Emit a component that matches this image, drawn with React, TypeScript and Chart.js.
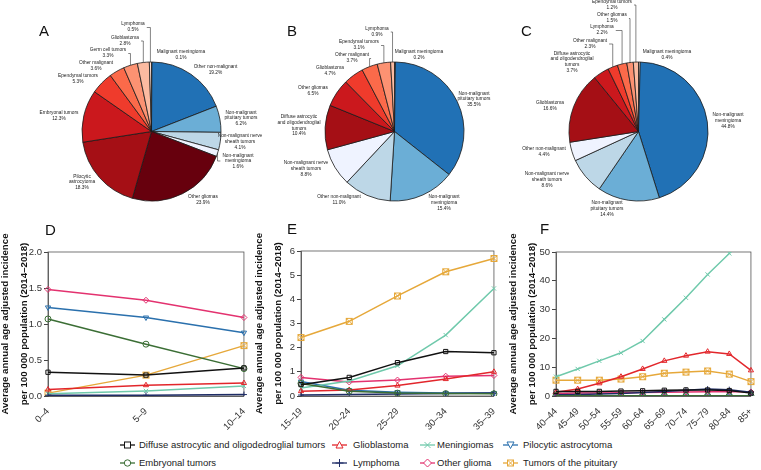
import React, { useEffect, useRef } from 'react';
import { Chart, registerables } from 'chart.js';

Chart.register(...registerables);

const FONT = '"Liberation Sans", Arial, Helvetica, sans-serif';
Chart.defaults.font.family = FONT;

/* ---------------- Pie data ---------------- */
const PIE_A_LABELS = ['Malignant meningioma', 'Other non-malignant', 'Non-malignant pituitary tumors', 'Non-malignant nerve sheath tumors', 'Non-malignant meningioma', 'Other gliomas', 'Pilocytic astrocytoma', 'Embryonal tumors', 'Ependymal tumors', 'Other malignant', 'Germ cell tumors', 'Glioblastoma', 'Lymphoma'];
const PIE_A_VALUES = [0.1, 19.2, 6.2, 4.1, 1.6, 23.9, 18.3, 12.3, 5.3, 3.6, 3.3, 2.8, 0.5];

const PIE_B_LABELS = ['Malignant meningioma', 'Non-malignant pituitary tumors', 'Non-malignant meningioma', 'Other non-malignant', 'Non-malignant nerve sheath tumors', 'Diffuse astrocytic and oligodendroglial tumors', 'Other gliomas', 'Glioblastoma', 'Other malignant', 'Ependymal tumors', 'Lymphoma'];
const PIE_B_VALUES = [0.2, 35.5, 15.4, 11.0, 8.8, 10.4, 6.5, 4.7, 3.7, 3.1, 0.9];

const PIE_C_LABELS = ['Malignant meningioma', 'Non-malignant meningioma', 'Non-malignant pituitary tumors', 'Non-malignant nerve sheath tumors', 'Other non-malignant', 'Glioblastoma', 'Diffuse astrocytic and oligodendroglial tumors', 'Other malignant', 'Lymphoma', 'Other gliomas', 'Ependymal tumors'];
const PIE_C_VALUES = [0.4, 44.8, 14.4, 8.6, 4.4, 16.6, 3.7, 2.3, 2.2, 1.5, 1.2];

/* ---------------- Pie styles & label layout ---------------- */
const PIE_A_COLORS = ['#fff5f0', '#2171b5', '#6baed6', '#bdd7e7', '#eff3ff', '#67000d', '#a50f15', '#cb181d', '#ef3b2c', '#fb6a4a', '#fc9272', '#fcbba1', '#fee0d2'];
const PIE_B_COLORS = ['#fee0d2', '#2171b5', '#6baed6', '#bdd7e7', '#eff3ff', '#a50f15', '#cb181d', '#ef3b2c', '#fb6a4a', '#fc9272', '#fcbba1'];
const PIE_C_COLORS = ['#fee0d2', '#2171b5', '#6baed6', '#bdd7e7', '#eff3ff', '#a50f15', '#cb181d', '#ef3b2c', '#fb6a4a', '#fc9272', '#fcbba1'];

const LABEL_WRAP: Record<string, string[]> = {
  'Non-malignant pituitary tumors': ['Non-malignant', 'pituitary tumors'],
  'Non-malignant nerve sheath tumors': ['Non-malignant nerve', 'sheath tumors'],
  'Non-malignant meningioma': ['Non-malignant', 'meningioma'],
  'Diffuse astrocytic and oligodendroglial tumors': ['Diffuse astrocytic', 'and oligodendroglial', 'tumors'],
  'Pilocytic astrocytoma': ['Pilocytic', 'astrocytoma'],
};

// [dx, dy] of label block centre relative to the pie centre, and leader type
type LabelPos = [number, number, string];
const PIE_A_LAYOUT: LabelPos[] = [[29.5, -76.5, ''], [64, -61.5, ''], [89.5, -13.5, ''], [88.5, 10, ''], [86.5, 29.5, 'down'], [51.5, 68.5, ''], [-69.5, 50.5, ''], [-92.5, -16, ''], [-73.5, -52.5, ''], [-55.5, -65.5, ''], [-43.5, -78.5, 'up'], [-26.5, -91, 'up'], [-18.5, -104.5, 'up']];
const PIE_B_LAYOUT: LabelPos[] = [[24.5, -76.5, ''], [79.5, -32.5, ''], [49.5, 71, ''], [-55.5, 68.5, ''], [-88.5, 37, ''], [-95.5, -6, ''], [-81.5, -40.5, ''], [-64.5, -60.5, ''], [-42.5, -73.5, 'up'], [-35.5, -86.5, 'up'], [-17.5, -100, 'up']];
const PIE_C_LAYOUT: LabelPos[] = [[28.5, -76.5, ''], [89.5, -11, ''], [-31.5, 77, ''], [-91.5, 48, ''], [-94.5, 20.5, ''], [-88.5, -26, ''], [-66.5, -69.5, ''], [-48.5, -88, 'up'], [-36.5, -101.5, 'up'], [-26.5, -113.5, 'up'], [-26.5, -127, 'up']];

/* ---------------- Line chart data ---------------- */
const SERIES_NAMES = ['Diffuse astrocytic and oligodedroglial tumors', 'Embryonal tumors', 'Glioblastoma', 'Lymphoma', 'Meningiomas', 'Other glioma', 'Pilocytic astrocytoma', 'Tumors of the pituitary'];

const AGES_D = ['0–4', '5–9', '10–14'];
const D_DIFFUSE = [0.33, 0.29, 0.39];
const D_EMBRYONAL = [1.07, 0.72, 0.38];
const D_GLIOBLASTOMA = [0.09, 0.15, 0.18];
const D_LYMPHOMA = [0.01, 0.01, 0.02];
const D_MENINGIOMAS = [0.03, 0.07, 0.14];
const D_OTHER_GLIOMA = [1.48, 1.33, 1.09];
const D_PILOCYTIC = [1.23, 1.09, 0.88];
const D_PITUITARY = [0.04, 0.29, 0.70];

const AGES_E = ['15–19', '20–24', '25–29', '30–34', '35–39'];
const E_DIFFUSE = [0.47, 0.77, 1.38, 1.84, 1.79];
const E_EMBRYONAL = [0.52, 0.2, 0.12, 0.1, 0.09];
const E_GLIOBLASTOMA = [0.2, 0.25, 0.43, 0.7, 1.0];
const E_LYMPHOMA = [0.04, 0.06, 0.08, 0.1, 0.12];
const E_MENINGIOMAS = [0.33, 0.62, 1.25, 2.52, 4.45];
const E_OTHER_GLIOMA = [0.77, 0.58, 0.66, 0.82, 0.85];
const E_PILOCYTIC = [0.6, 0.24, 0.16, 0.12, 0.12];
const E_PITUITARY = [2.42, 3.09, 4.14, 5.14, 5.69];

const AGES_F = ['40–44', '45–49', '50–54', '55–59', '60–64', '65–69', '70–74', '75–79', '80–84', '85+'];
const F_DIFFUSE = [1.6, 1.6, 1.6, 1.7, 1.8, 2.0, 2.1, 2.1, 1.9, 1.0];
const F_EMBRYONAL = [0.12, 0.1, 0.1, 0.09, 0.09, 0.08, 0.08, 0.07, 0.06, 0.05];
const F_GLIOBLASTOMA = [1.3, 2.4, 4.4, 6.7, 9.4, 12.2, 14.0, 15.4, 14.6, 8.9];
const F_LYMPHOMA = [0.4, 0.5, 0.7, 0.9, 1.2, 1.6, 2.0, 2.4, 2.2, 1.3];
const F_MENINGIOMAS = [6.7, 9.4, 12.2, 15.0, 19.1, 26.6, 34.1, 42.2, 49.5, 56];
const F_OTHER_GLIOMA = [0.9, 1.0, 1.0, 1.1, 1.2, 1.3, 1.4, 1.5, 1.6, 1.4];
const F_PILOCYTIC = [0.15, 0.14, 0.13, 0.12, 0.12, 0.1, 0.1, 0.09, 0.08, 0.06];
const F_PITUITARY = [5.5, 5.5, 5.5, 5.9, 6.7, 7.9, 8.3, 8.7, 7.6, 5.0];

const Y_TITLE = ['Average annual age adjusted incidence', 'per 100 000 population (2014–2018)'];

/* ---------------- Line styles ---------------- */
const SERIES_COLORS = ['#111111', '#3b6e35', '#e2262b', '#1f2d66', '#6fc9ab', '#e3326f', '#2a70ad', '#e6a83a'];
const SERIES_SHAPES = ['rect', 'circle', 'triangle', 'cross', 'crossRot', 'rectRot', 'triangle', 'rectX'];
const SERIES_ROT = [0, 0, 0, 0, 0, 0, 180, 0];

function makeRectX(color: string) {
  const c = document.createElement('canvas');
  c.width = 9;
  c.height = 9;
  const g = c.getContext('2d')!;
  g.strokeStyle = color;
  g.lineWidth = 1;
  g.strokeRect(1.5, 1.5, 6, 6);
  g.beginPath();
  g.moveTo(1.5, 1.5); g.lineTo(7.5, 7.5);
  g.moveTo(7.5, 1.5); g.lineTo(1.5, 7.5);
  g.stroke();
  return c;
}

/* ---------------- Pie component ---------------- */
type PieProps = {
  left: number; top: number; width: number; height: number;
  cx: number; cy: number; r: number;
  labels: string[]; values: number[]; colors: string[]; layout: LabelPos[];
};

function PieChart(p: PieProps) {
  const ref = useRef<HTMLCanvasElement>(null);
  useEffect(() => {
    const bw = 0.8;
    const rr = p.r + bw / 2;
    const labelPlugin = {
      id: 'pieLabels',
      afterDraw(chart: any) {
        const ctx = chart.ctx;
        const meta = chart.getDatasetMeta(0);
        ctx.save();
        ctx.font = `4.8px ${FONT}`;
        ctx.fillStyle = '#222';
        ctx.strokeStyle = '#333';
        ctx.lineWidth = 0.6;
        ctx.textAlign = 'center';
        ctx.textBaseline = 'middle';
        const lh = 5.7;
        meta.data.forEach((arc: any, i: number) => {
          const { x, y, startAngle, endAngle, outerRadius } = arc.getProps(['x', 'y', 'startAngle', 'endAngle', 'outerRadius'], true);
          const L = p.layout[i];
          const name = p.labels[i];
          const lines = [...(LABEL_WRAP[name] || [name]), `${p.values[i].toFixed(1)}%`];
          const bx = x + L[0];
          const by = y + L[1];
          const w = Math.max(...lines.map((t) => ctx.measureText(t).width));
          lines.forEach((t, k) => ctx.fillText(t, bx, by + (k - (lines.length - 1) / 2) * lh));
          const mid = (startAngle + endAngle) / 2;
          const ax = x + outerRadius * Math.cos(mid);
          const ay = y + outerRadius * Math.sin(mid);
          if (L[2] === 'up') {
            ctx.beginPath();
            ctx.moveTo(bx + w / 2 + 2, by + 0.5);
            ctx.lineTo(ax, by + 0.5);
            ctx.lineTo(ax, ay);
            ctx.stroke();
          } else if (L[2] === 'down') {
            ctx.beginPath();
            ctx.moveTo(ax, ay);
            ctx.lineTo(ax, by);
            ctx.lineTo(bx - w / 2 - 2, by);
            ctx.stroke();
          }
        });
        ctx.restore();
      },
    };
    const chart = new Chart(ref.current!, {
      type: 'pie',
      data: {
        labels: p.labels,
        datasets: [{ data: p.values, backgroundColor: p.colors, borderColor: '#1a1a1a', borderWidth: bw, hoverOffset: 0 }],
      },
      options: {
        animation: false,
        responsive: false,
        maintainAspectRatio: false,
        events: [],
        layout: {
          padding: {
            left: p.cx - p.left - rr,
            top: p.cy - p.top - rr,
            right: p.left + p.width - (p.cx + rr),
            bottom: p.top + p.height - (p.cy + rr),
          },
        },
        plugins: { legend: { display: false }, tooltip: { enabled: false } },
      },
      plugins: [labelPlugin],
    } as any);
    return () => chart.destroy();
  }, []);
  return (
    <canvas ref={ref} width={p.width} height={p.height}
      style={{ position: 'absolute', left: p.left, top: p.top, width: p.width, height: p.height }} />
  );
}

/* ---------------- Line component ---------------- */
type LineProps = {
  left: number; top: number; width: number; height: number;
  plotLeft: number; plotTop: number; plotRight: number; plotBottom: number;
  labels: string[]; series: number[][]; yMax: number; yStep: number; decimals: number;
};

const framePlugin = {
  id: 'frame',
  beforeDatasetsDraw(chart: any) {
    const { ctx, chartArea: a } = chart;
    ctx.save();
    ctx.strokeStyle = '#555';
    ctx.lineWidth = 0.8;
    ctx.strokeRect(a.left, a.top, a.right - a.left, a.bottom - a.top);
    ctx.restore();
  },
};

function LineChart(p: LineProps) {
  const ref = useRef<HTMLCanvasElement>(null);
  useEffect(() => {
    const yWidth = p.plotLeft - p.left;
    const xHeight = p.top + p.height - p.plotBottom;
    const chart = new Chart(ref.current!, {
      type: 'line',
      data: {
        labels: p.labels,
        datasets: p.series.map((s, i) => ({
          label: SERIES_NAMES[i],
          data: s,
          borderColor: SERIES_COLORS[i],
          backgroundColor: 'rgba(0,0,0,0)',
          borderWidth: 1.5,
          pointStyle: SERIES_SHAPES[i] === 'rectX' ? makeRectX(SERIES_COLORS[i]) : SERIES_SHAPES[i],
          pointRotation: SERIES_ROT[i],
          pointRadius: 3,
          pointBorderWidth: 1,
          pointBackgroundColor: 'rgba(255,255,255,0)',
          pointBorderColor: SERIES_COLORS[i],
          tension: 0,
        })),
      },
      options: {
        animation: false,
        responsive: false,
        maintainAspectRatio: false,
        events: [],
        layout: { padding: { left: 0, top: p.plotTop - p.top, right: p.left + p.width - p.plotRight, bottom: 0 } },
        plugins: { legend: { display: false }, tooltip: { enabled: false } },
        scales: {
          x: {
            type: 'category',
            offset: false,
            grid: { display: false },
            border: { display: true, color: '#444', width: 0.8 },
            ticks: { autoSkip: false, minRotation: 45, maxRotation: 45, padding: 2, color: '#333', font: { size: 9.5, family: FONT } },
            afterFit: (s: any) => { s.height = xHeight; },
          },
          y: {
            min: 0,
            max: p.yMax,
            border: { display: true, color: '#444', width: 0.8 },
            grid: { drawOnChartArea: false, drawTicks: true, tickLength: 4, color: '#444' },
            ticks: {
              stepSize: p.yStep, padding: 2, color: '#333', font: { size: 9.5, family: FONT },
              callback: (v: any) => Number(v).toFixed(p.decimals),
            },
            title: {
              display: true, text: Y_TITLE, color: '#111',
              font: { size: 9.7, weight: 'bold', family: FONT, lineHeight: 1.95 },
              padding: { top: -4, bottom: 0 },
            },
            afterFit: (s: any) => { s.width = yWidth; },
          },
        },
      },
      plugins: [framePlugin],
    } as any);
    return () => chart.destroy();
  }, []);
  return (
    <canvas ref={ref} width={p.width} height={p.height}
      style={{ position: 'absolute', left: p.left, top: p.top, width: p.width, height: p.height }} />
  );
}

/* ---------------- Legend ---------------- */
function LegendIcon({ shape, color, rot }: { shape: string; color: string; rot: number }) {
  const c = 7.5;
  const cy = 5;
  let m: any = null;
  if (shape === 'rect') m = <rect x={c - 3} y={cy - 3} width={6} height={6} fill="white" stroke={color} />;
  else if (shape === 'circle') m = <circle cx={c} cy={cy} r={3.2} fill="white" stroke={color} />;
  else if (shape === 'triangle') m = <polygon points={`${c},${cy - 3.5} ${c + 3.5},${cy + 3} ${c - 3.5},${cy + 3}`} fill="white" stroke={color} transform={`rotate(${rot} ${c} ${cy})`} />;
  else if (shape === 'cross') m = <path d={`M${c},${cy - 4}V${cy + 4}M${c - 4},${cy}H${c + 4}`} stroke={color} />;
  else if (shape === 'crossRot') m = <path d={`M${c - 3},${cy - 3}L${c + 3},${cy + 3}M${c + 3},${cy - 3}L${c - 3},${cy + 3}`} stroke={color} />;
  else if (shape === 'rectRot') m = <polygon points={`${c},${cy - 4} ${c + 4},${cy} ${c},${cy + 4} ${c - 4},${cy}`} fill="white" stroke={color} />;
  else if (shape === 'rectX') m = <g><rect x={c - 3} y={cy - 3} width={6} height={6} fill="white" stroke={color} /><path d={`M${c - 3},${cy - 3}L${c + 3},${cy + 3}M${c + 3},${cy - 3}L${c - 3},${cy + 3}`} stroke={color} /></g>;
  return (
    <svg width={15} height={10} style={{ position: 'absolute', left: -7.5, top: -5, overflow: 'visible' }}>
      <line x1={0} y1={cy} x2={15} y2={cy} stroke={color} strokeWidth={1.3} />
      {m}
    </svg>
  );
}

const LEGEND_MARK_X = [127.5, 339, 427, 510];
const LEGEND_TEXT_X = [139, 353, 437, 523];
const LEGEND_ROW_Y = [445, 463];

function Legend() {
  return (
    <>
      {SERIES_NAMES.map((name, i) => {
        const col = Math.floor(i / 2);
        const row = i % 2;
        const y = LEGEND_ROW_Y[row];
        return (
          <React.Fragment key={name}>
            <div style={{ position: 'absolute', left: LEGEND_MARK_X[col], top: y, width: 0, height: 0 }}>
              <LegendIcon shape={SERIES_SHAPES[i]} color={SERIES_COLORS[i]} rot={SERIES_ROT[i]} />
            </div>
            <div style={{ position: 'absolute', left: LEGEND_TEXT_X[col], top: y - 6, height: 12, lineHeight: '12px', fontSize: 9.5, color: '#222', whiteSpace: 'nowrap' }}>
              {name}
            </div>
          </React.Fragment>
        );
      })}
    </>
  );
}

const letterStyle = (left: number, top: number): React.CSSProperties => ({
  position: 'absolute', left, top, fontSize: 15, lineHeight: '15px', color: '#111',
});

export default function App() {
  return (
    <div style={{ position: 'absolute', left: 0, top: 0, width: 761, height: 470, overflow: 'hidden', background: '#fff', fontFamily: FONT }}>
      <PieChart left={0} top={0} width={275} height={222} cx={151.5} cy={131.5} r={69.5}
        labels={PIE_A_LABELS} values={PIE_A_VALUES} colors={PIE_A_COLORS} layout={PIE_A_LAYOUT} />
      <PieChart left={262} top={0} width={248} height={222} cx={394.5} cy={131.5} r={69.5}
        labels={PIE_B_LABELS} values={PIE_B_VALUES} colors={PIE_B_COLORS} layout={PIE_B_LAYOUT} />
      <PieChart left={512} top={0} width={249} height={222} cx={638.5} cy={131.5} r={69.5}
        labels={PIE_C_LABELS} values={PIE_C_VALUES} colors={PIE_C_COLORS} layout={PIE_C_LAYOUT} />

      <LineChart left={0} top={222} width={254} height={210} plotLeft={48} plotTop={252} plotRight={248} plotBottom={396}
        labels={AGES_D} yMax={2} yStep={0.5} decimals={1}
        series={[D_DIFFUSE, D_EMBRYONAL, D_GLIOBLASTOMA, D_LYMPHOMA, D_MENINGIOMAS, D_OTHER_GLIOMA, D_PILOCYTIC, D_PITUITARY]} />
      <LineChart left={254} top={222} width={250} height={210} plotLeft={301} plotTop={251} plotRight={498} plotBottom={396}
        labels={AGES_E} yMax={6} yStep={1} decimals={0}
        series={[E_DIFFUSE, E_EMBRYONAL, E_GLIOBLASTOMA, E_LYMPHOMA, E_MENINGIOMAS, E_OTHER_GLIOMA, E_PILOCYTIC, E_PITUITARY]} />
      <LineChart left={508} top={222} width={253} height={210} plotLeft={556} plotTop={252} plotRight={755} plotBottom={396}
        labels={AGES_F} yMax={50} yStep={10} decimals={0}
        series={[F_DIFFUSE, F_EMBRYONAL, F_GLIOBLASTOMA, F_LYMPHOMA, F_MENINGIOMAS, F_OTHER_GLIOMA, F_PILOCYTIC, F_PITUITARY]} />

      <div style={letterStyle(39, 23)}>A</div>
      <div style={letterStyle(287, 23)}>B</div>
      <div style={letterStyle(521, 23)}>C</div>
      <div style={letterStyle(45, 222)}>D</div>
      <div style={letterStyle(287, 221)}>E</div>
      <div style={letterStyle(540, 221)}>F</div>

      <Legend />
    </div>
  );
}
